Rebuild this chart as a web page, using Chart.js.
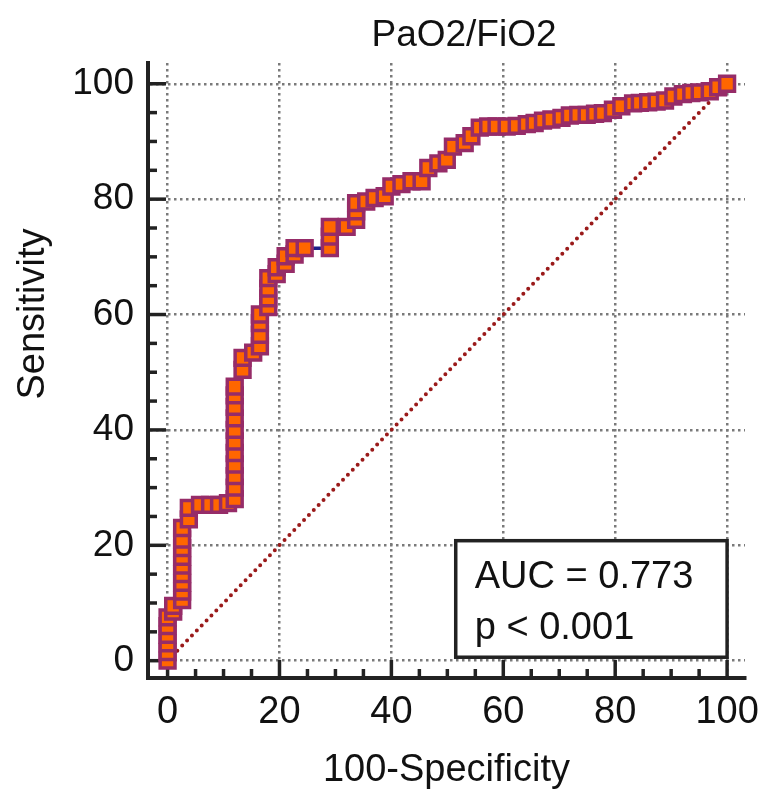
<!DOCTYPE html>
<html>
<head>
<meta charset="utf-8">
<script src="https://cdn.jsdelivr.net/npm/chart.js@4.4.1/dist/chart.umd.min.js"></script>
<style>
  body { margin: 0; background: #fff; }
  #wrap { width: 766px; height: 795px; }
</style>
</head>
<body>
<div id="wrap"><canvas id="roc" width="766" height="795"></canvas></div>
<script>
// ROC points (100-Specificity, Sensitivity)
const fpr = [
  0, 0, 0, 0, 0, 0,
  1, 1,
  2.6, 2.6, 2.6, 2.6, 2.6, 2.6, 2.6, 2.6, 2.6,
  3.8, 3.8,
  5.8, 7.6, 9.2, 10.8,
  12, 12, 12, 12, 12, 12, 12, 12, 12, 12, 12,
  13.4, 13.4, 15.3,
  16.5, 16.5, 16.5, 16.5,
  18, 18, 18, 18,
  19.5, 19.5, 21.1, 21.1, 22.7, 22.7, 24.5,
  29, 29, 29, 32,
  33.7, 33.7, 33.7, 35.5, 37, 38.8,
  40, 41.8, 43.6, 45.4,
  46.6, 48.4, 49.9,
  51, 53.1, 54.3,
  55.8, 57.3, 58.8, 60.6, 62.4,
  64.2, 65.6, 67.1, 68.6,
  70.4, 71.9,
  73.4, 74.9, 76.4, 77.8,
  79.6, 81.1,
  83.2, 84.4, 85.9, 87.4, 88.9,
  90.4, 92.1, 93.6, 95.1, 96.9,
  98.4, 100
];
const sens = [
  0, 1.5, 3, 4.5, 6, 7.5,
  8.5, 9.5,
  10.5, 12, 13.5, 15, 16.5, 18, 19.5, 21, 23,
  24.5, 26.5,
  27, 27, 27, 27.3,
  28, 30, 32, 34, 36, 38, 40, 42, 44, 46, 47.5,
  50.4, 52.5, 53.4,
  54.5, 56.5, 58.5, 60,
  61.3, 62.8, 64.5, 66.3,
  67, 68.2, 68.8, 70.1, 70.4, 71.5, 71.5,
  71.5, 73.5, 75.2, 75.2,
  76.4, 77.9, 79.3, 79.6, 80.2, 80.5,
  82.2, 82.6, 83.1, 83.1,
  85.4, 86.2, 86.8,
  89.1, 89.7, 90.9,
  92.4, 92.6, 92.6, 92.6, 92.7,
  93, 93.2, 93.6, 93.8,
  94.1, 94.5,
  94.6, 94.6, 94.8, 94.9,
  95.5, 96.1,
  96.6, 96.7, 96.8, 96.9, 97.1,
  97.8, 98.2, 98.4, 98.5, 98.7,
  99.4, 100
];
const diagX = [0, 100];
const diagY = [0, 100];
const tickValues = [0, 5, 10, 15, 20, 25, 30, 35, 40, 45, 50, 55, 60, 65, 70, 75, 80, 85, 90, 95, 100];
const chartTitle = 'PaO2/FiO2';
const yTitle = 'Sensitivity';
const xTitle = '100-Specificity';
const statLines = ['AUC = 0.773', 'p < 0.001'];

const FONT = "'Liberation Sans', Arial, sans-serif";
const INK = '#111';

const rocPoints = fpr.map((v, i) => ({ x: v, y: sens[i] }));
const diagPoints = diagX.map((v, i) => ({ x: v, y: diagY[i] }));

const gridColor = c => (c.tick && c.tick.value % 20 === 0) ? '#7a7a7a' : 'rgba(0,0,0,0)';

// inward tick marks, the stats box and the free texts
const decor = {
  id: 'decor',
  beforeDatasetsDraw(chart) {
    const { ctx, chartArea, scales: { x, y } } = chart;
    ctx.save();

    // stats box in the lower right corner
    const bl = x.getPixelForValue(51.5), br = x.getPixelForValue(100);
    const bt = y.getPixelForValue(20.8), bb = y.getPixelForValue(0.6);
    ctx.fillStyle = '#fff';
    ctx.fillRect(bl, bt, br - bl, bb - bt);
    ctx.strokeStyle = '#222';
    ctx.lineWidth = 3.5;
    ctx.strokeRect(bl, bt, br - bl, bb - bt);
    ctx.fillStyle = INK;
    ctx.font = '38px ' + FONT;
    ctx.textAlign = 'left';
    ctx.textBaseline = 'alphabetic';
    ctx.fillText(statLines[0], bl + 19, bt + 47);
    ctx.fillText(statLines[1], bl + 19, bt + 98);

    ctx.strokeStyle = '#222';
    ctx.lineWidth = 3.5;
    tickValues.forEach(v => {
      const len = v % 20 === 0 ? 18 : 9;
      const px = x.getPixelForValue(v);
      ctx.beginPath();
      ctx.moveTo(px, chartArea.bottom);
      ctx.lineTo(px, chartArea.bottom - len);
      ctx.stroke();
      const py = y.getPixelForValue(v);
      ctx.beginPath();
      ctx.moveTo(chartArea.left, py);
      ctx.lineTo(chartArea.left + len, py);
      ctx.stroke();
    });
    ctx.restore();
  },
  afterDraw(chart) {
    const { ctx } = chart;
    ctx.save();
    ctx.fillStyle = INK;
    ctx.font = '37px ' + FONT;
    ctx.textAlign = 'center';
    ctx.textBaseline = 'middle';
    ctx.fillText(chartTitle, 464, 36);
    ctx.font = '38px ' + FONT;
    ctx.translate(34, 314);
    ctx.rotate(-Math.PI / 2);
    ctx.fillText(yTitle, 0, 0);
    ctx.restore();
  }
};

new Chart(document.getElementById('roc'), {
  type: 'scatter',
  data: {
    datasets: [{
      label: chartTitle,
      data: rocPoints,
      showLine: true,
      borderColor: '#1c1f8a',
      borderWidth: 3.5,
      pointStyle: 'rect',
      pointRadius: 10.5,
      pointBorderWidth: 3.5,
      pointBackgroundColor: '#ff6600',
      pointBorderColor: '#962c68',
      clip: false
    }, {
      label: 'reference',
      data: diagPoints,
      showLine: true,
      borderColor: '#9a1a1a',
      borderWidth: 4,
      borderDash: [0, 7],
      borderCapStyle: 'round',
      pointRadius: 0
    }]
  },
  options: {
    responsive: false,
    animation: false,
    layout: { padding: { top: 63, right: 21, bottom: 0, left: 0 } },
    plugins: {
      legend: { display: false },
      tooltip: { enabled: false }
    },
    scales: {
      x: {
        type: 'linear',
        min: -3.5,
        max: 103.2,
        afterBuildTicks: s => { s.ticks = tickValues.map(v => ({ value: v })); },
        afterFit: s => { s.height = 117; s.paddingLeft = 0; s.paddingRight = 0; },
        grid: { color: gridColor, lineWidth: 2.5, drawTicks: false },
        border: { display: true, color: '#222', width: 4, dash: [2.5, 3.5] },
        ticks: {
          autoSkip: false, maxRotation: 0, padding: 12, color: INK,
          font: { family: FONT, size: 38 },
          callback: v => v % 20 === 0 ? v : ''
        },
        title: {
          display: true, text: xTitle, color: INK,
          font: { family: FONT, size: 38 },
          padding: { top: 0, bottom: 2 }
        }
      },
      y: {
        type: 'linear',
        min: -3.0,
        max: 103.6,
        afterBuildTicks: s => { s.ticks = tickValues.map(v => ({ value: v })); },
        afterFit: s => { s.width = 148; s.paddingTop = 0; s.paddingBottom = 0; },
        grid: { color: gridColor, lineWidth: 2.5, drawTicks: false },
        border: { display: true, color: '#222', width: 4, dash: [2.5, 3.5] },
        ticks: {
          autoSkip: false, padding: 14, color: INK,
          font: { family: FONT, size: 37 },
          callback: v => v % 20 === 0 ? v : ''
        }
      }
    }
  },
  plugins: [decor]
});
</script>
</body>
</html>
